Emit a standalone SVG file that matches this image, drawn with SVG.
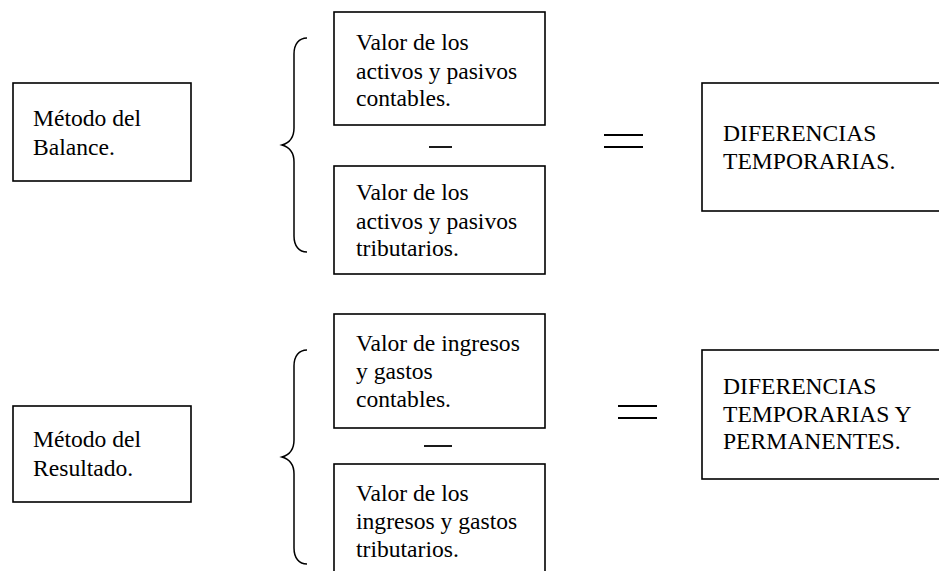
<svg xmlns="http://www.w3.org/2000/svg" width="939" height="571" viewBox="0 0 939 571">
<style>
.box{fill:#fff;stroke:#000;stroke-width:1.6}
.t{font-family:"Liberation Serif","Times New Roman",serif;font-size:23.6px;fill:#000}
.ln{stroke:#000;stroke-width:1.8;fill:none}
.br{stroke:#000;stroke-width:1.5;fill:none}
</style>
<rect width="939" height="571" fill="#fff"/>
<g id="metodo-balance">
<rect class="box" x="13" y="83" width="178" height="98"/>
<text class="t" x="33" y="126">Método del</text>
<text class="t" x="33" y="155">Balance.</text>
</g>
<g id="activos-contables">
<rect class="box" x="334" y="12" width="211" height="113"/>
<text class="t" x="356" y="50">Valor de los</text>
<text class="t" x="356" y="79">activos y pasivos</text>
<text class="t" x="356" y="106">contables.</text>
</g>
<g id="activos-tributarios">
<rect class="box" x="334" y="166" width="211" height="108"/>
<text class="t" x="356" y="200">Valor de los</text>
<text class="t" x="356" y="229">activos y pasivos</text>
<text class="t" x="356" y="256">tributarios.</text>
</g>
<g id="dif-temporarias">
<rect class="box" x="702" y="83" width="245" height="128"/>
<text class="t" x="723" y="141">DIFERENCIAS</text>
<text class="t" x="723" y="169">TEMPORARIAS.</text>
</g>
<g id="metodo-resultado">
<rect class="box" x="13" y="406" width="178" height="96"/>
<text class="t" x="33" y="447">Método del</text>
<text class="t" x="33" y="476">Resultado.</text>
</g>
<g id="ingresos-contables">
<rect class="box" x="334" y="314" width="211" height="114"/>
<text class="t" x="356" y="351">Valor de ingresos</text>
<text class="t" x="356" y="379">y gastos</text>
<text class="t" x="356" y="407">contables.</text>
</g>
<g id="ingresos-tributarios">
<rect class="box" x="334" y="464" width="211" height="120"/>
<text class="t" x="356" y="501">Valor de los</text>
<text class="t" x="356" y="529">ingresos y gastos</text>
<text class="t" x="356" y="557">tributarios.</text>
</g>
<g id="dif-temp-perm">
<rect class="box" x="702" y="350" width="245" height="129"/>
<text class="t" x="723" y="394">DIFERENCIAS</text>
<text class="t" x="723" y="422">TEMPORARIAS Y</text>
<text class="t" x="723" y="449">PERMANENTES.</text>
</g>
<g id="connectors">
<path class="br" d="M307,38 C299,38 294,44 294,54 L294,128 C294,138 289,143 282,145 C289,147 294,152 294,162 L294,236 C294,246 299,252 307,252"/>
<path class="br" d="M307,350 C299,350 294,356 294,366 L294,440 C294,450 289,455 282,457 C289,459 294,464 294,474 L294,548 C294,558 299,564 307,564"/>
<line class="ln" x1="429" y1="147" x2="452" y2="147"/>
<line class="ln" x1="424" y1="446" x2="452" y2="446"/>
<line class="ln" x1="604" y1="135" x2="643" y2="135"/>
<line class="ln" x1="604" y1="147" x2="643" y2="147"/>
<line class="ln" x1="618" y1="406" x2="657" y2="406"/>
<line class="ln" x1="618" y1="418" x2="657" y2="418"/>
</g>
</svg>
